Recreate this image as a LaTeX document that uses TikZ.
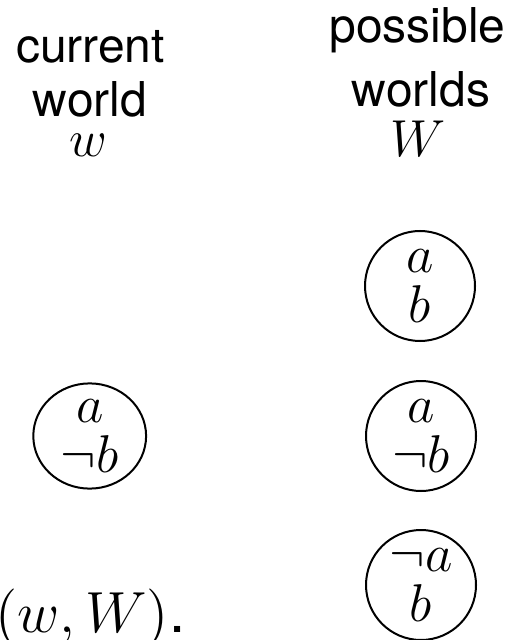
\documentclass[tikz,border=0pt]{standalone}
\usepackage{fix-cm}
\usepackage{fontspec}
\setsansfont{TeX Gyre Heros}
\usetikzlibrary{shapes.geometric}
\begin{document}
\begin{tikzpicture}[x=0.25pt,y=-0.25pt,
  lbl/.style={font=\sffamily\fontsize{12}{14}\selectfont, inner sep=0pt, anchor=base},
  mlbl/.style={font=\fontsize{13}{15}\selectfont, inner sep=0pt, anchor=base},
  worldnode/.style={draw, line width=0.5pt, inner sep=0pt, align=center,
    font=\fontsize{13.3}{12.6}\selectfont},
  rw/.style={worldnode, circle, minimum size=27.5pt},
  lw/.style={worldnode, ellipse, minimum width=28.2pt, minimum height=26.3pt}]
\useasboundingbox (0,0) rectangle (511,640);
% left column heading
\node[lbl] (cur) at (90.5,63) {current};
\node[lbl] (wor) at (90,117) {world};
\node[mlbl] (w) at (88,157) {$w$};
% right column heading
\node[lbl] (pos) at (417.5,43) {possible};
\node[lbl] (wos) at (421,107) {worlds};
\node[mlbl] (W) at (418,157) {$W$};
% worlds
\node[rw] (ab) at (420,286) {$a$\\$b$};
\node[rw] (anb) at (421,436) {$a$\\$\neg b$};
\node[rw] (nab) at (421,585) {$\neg a$\\$b$};
\node[lw] (cw) at (89.7,436) {$a$\\$\neg b$};
% bottom expression
\node[mlbl, anchor=base west, font=\fontsize{14.5}{16}\selectfont] (pair) at (-5,632) {$(w,W)$\sffamily.};
\end{tikzpicture}
\end{document}
